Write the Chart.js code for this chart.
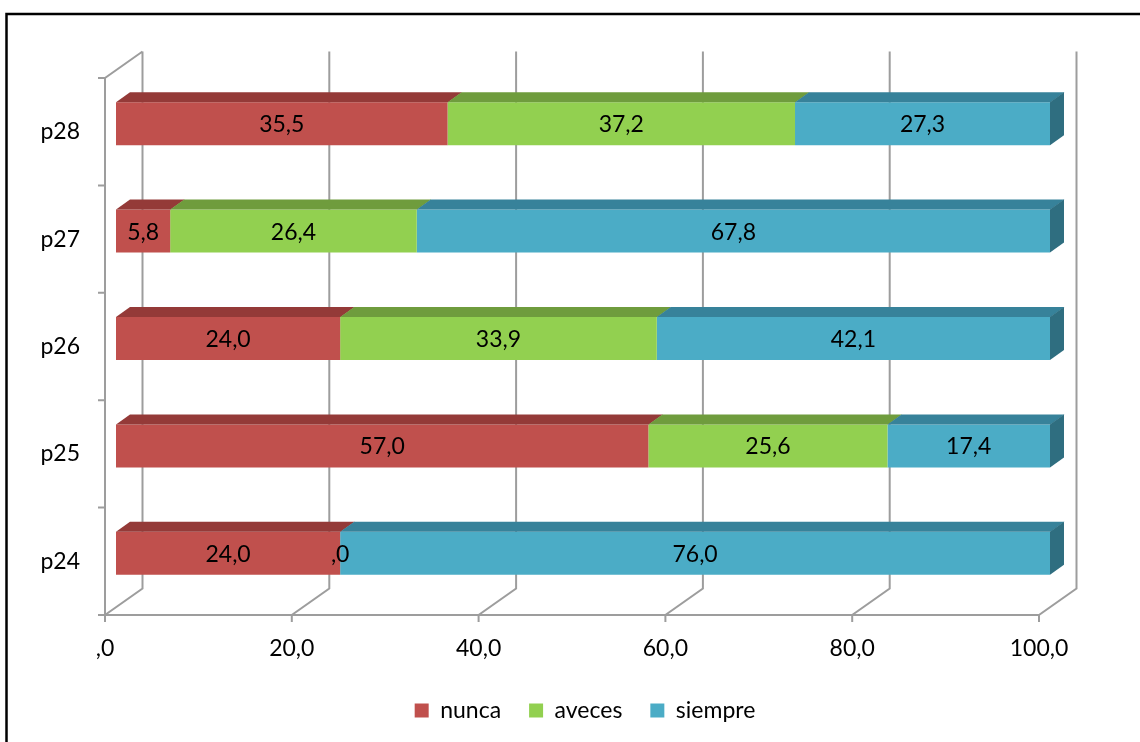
<!DOCTYPE html>
<html>
<head>
<meta charset="utf-8">
<script src="https://cdn.jsdelivr.net/npm/chart.js@4.4.1/dist/chart.umd.min.js"></script>
<style>
  html, body { margin: 0; padding: 0; background: #fff; }
  #wrap { width: 1140px; height: 742px; position: relative; }
</style>
</head>
<body>
<div id="wrap"><canvas id="c" width="1140" height="742"></canvas></div>
<script>
// Survey answers per item, in percent
const categories = ['p24', 'p25', 'p26', 'p27', 'p28'];
const nunca   = [24.0, 57.0, 24.0,  5.8, 35.5];
const aveces  = [ 0.0, 25.6, 33.9, 26.4, 37.2];
const siempre = [76.0, 17.4, 42.1, 67.8, 27.3];
const seriesNames = ['nunca', 'aveces', 'siempre'];
const xTickLabels = [',0', '20,0', '40,0', '60,0', '80,0', '100,0'];

// Colours: front face, top face, end face
const FRONT = ['#C0504D', '#92D050', '#4BACC6'];
const TOPS  = ['#943A38', '#6F9C3D', '#37829A'];
const SIDE  = '#2F6E80';
const GRID  = '#9D9D9D';

// Pseudo-3D offsets (x to the right, y upwards is negative)
const WALL  = { dx: 37.5, dy: -26.5 };   // back wall relative to front plane
const SHIFT = { dx: 11,   dy: -8 };      // bar front face relative to front plane
const DEPTH = { dx: 14,   dy: -10 };     // bar thickness

const fmt = v => {
  let s = v.toFixed(1).replace('.', ',');
  if (s.startsWith('0')) s = s.slice(1);
  return s;
};

Chart.defaults.font.family = 'Lato';
Chart.defaults.font.size = 23;
Chart.defaults.color = '#000';

const frame3d = {
  id: 'frame3d',
  beforeDraw(chart) {
    const { ctx, width, height } = chart;
    ctx.save();
    ctx.fillStyle = '#fff';
    ctx.fillRect(0, 0, width, height);
    ctx.strokeStyle = '#000';
    ctx.lineWidth = 2.5;
    ctx.strokeRect(6.5, 14, width + 40, height + 40);
    ctx.restore();
  },
  beforeDatasetsDraw(chart) {
    const { ctx, chartArea: a, scales: { x, y } } = chart;
    ctx.save();
    ctx.strokeStyle = GRID;
    ctx.lineWidth = 2;
    ctx.beginPath();
    // back wall verticals, floor diagonals and ticks under the front edge
    x.ticks.forEach(t => {
      const px = x.getPixelForValue(t.value);
      ctx.moveTo(px + WALL.dx, a.top + WALL.dy);
      ctx.lineTo(px + WALL.dx, a.bottom + WALL.dy);
      ctx.lineTo(px, a.bottom);
      ctx.lineTo(px, a.bottom + 7);
    });
    // front floor edge, front left edge and top of the side wall
    ctx.moveTo(a.left, a.bottom);
    ctx.lineTo(a.right, a.bottom);
    ctx.moveTo(a.left, a.bottom);
    ctx.lineTo(a.left, a.top);
    ctx.lineTo(a.left + WALL.dx, a.top + WALL.dy);
    // category boundary ticks
    const band = Math.abs(y.getPixelForValue(1) - y.getPixelForValue(0));
    for (let i = 0; i < categories.length; i++) {
      const py = y.getPixelForValue(i);
      [py - band / 2, py + band / 2].forEach(b => {
        ctx.moveTo(a.left - 7, b);
        ctx.lineTo(a.left, b);
      });
    }
    ctx.stroke();
    ctx.restore();
    // bars sit a little behind the front plane
    ctx.save();
    ctx.translate(SHIFT.dx, SHIFT.dy);
  },
  afterDatasetsDraw(chart) {
    const { ctx } = chart;
    const last = chart.data.datasets.length - 1;
    chart.data.datasets.forEach((ds, di) => {
      const meta = chart.getDatasetMeta(di);
      meta.data.forEach(bar => {
        const { x, y, base, height } = bar.getProps(['x', 'y', 'base', 'height'], true);
        const top = y - height / 2, bottom = y + height / 2;
        if (x - base > 0) {
          ctx.fillStyle = TOPS[di];
          ctx.beginPath();
          ctx.moveTo(base, top);
          ctx.lineTo(x + 0.5, top);
          ctx.lineTo(x + 0.5 + DEPTH.dx, top + DEPTH.dy);
          ctx.lineTo(base + DEPTH.dx, top + DEPTH.dy);
          ctx.closePath();
          ctx.fill();
        }
        if (di === last) {
          ctx.fillStyle = SIDE;
          ctx.beginPath();
          ctx.moveTo(x, top);
          ctx.lineTo(x + DEPTH.dx, top + DEPTH.dy);
          ctx.lineTo(x + DEPTH.dx, bottom + DEPTH.dy);
          ctx.lineTo(x, bottom);
          ctx.closePath();
          ctx.fill();
        }
      });
    });
    // value labels in the middle of each segment
    ctx.fillStyle = '#000';
    ctx.font = '23px Lato';
    ctx.textAlign = 'center';
    ctx.textBaseline = 'middle';
    chart.data.datasets.forEach((ds, di) => {
      chart.getDatasetMeta(di).data.forEach((bar, i) => {
        const { x, y, base } = bar.getProps(['x', 'y', 'base'], true);
        ctx.fillText(fmt(ds.data[i]), (x + base) / 2, y + 1);
      });
    });
    ctx.restore();
  }
};

new Chart(document.getElementById('c'), {
  type: 'bar',
  data: {
    labels: categories,
    datasets: [
      { label: seriesNames[0], data: nunca,   backgroundColor: FRONT[0], borderWidth: 0 },
      { label: seriesNames[1], data: aveces,  backgroundColor: FRONT[1], borderWidth: 0 },
      { label: seriesNames[2], data: siempre, backgroundColor: FRONT[2], borderWidth: 0 }
    ]
  },
  options: {
    responsive: false,
    animation: false,
    indexAxis: 'y',
    layout: { padding: { left: 30, right: 0, top: 78, bottom: 10 } },
    datasets: { bar: { barPercentage: 0.4, categoryPercentage: 1 } },
    scales: {
      x: {
        stacked: true, min: 0, max: 100,
        ticks: { stepSize: 20, padding: 20, callback: (v, i) => xTickLabels[i] },
        grid: { display: false, drawTicks: false },
        border: { display: false },
        afterFit: s => { s.height = 56; }
      },
      y: {
        stacked: true, reverse: true,
        ticks: { padding: 25 },
        grid: { display: false, drawTicks: false },
        border: { display: false },
        afterFit: s => { s.width = 75; }
      },
      yR: {
        type: 'category', position: 'right',
        ticks: { display: false },
        grid: { display: false, drawTicks: false },
        border: { display: false },
        afterFit: s => { s.width = 101; }
      }
    },
    plugins: {
      legend: {
        position: 'bottom',
        labels: { boxWidth: 14, boxHeight: 14, padding: 28, font: { size: 23 } }
      },
      tooltip: { enabled: false }
    }
  },
  plugins: [frame3d]
});
</script>
</body>
</html>
